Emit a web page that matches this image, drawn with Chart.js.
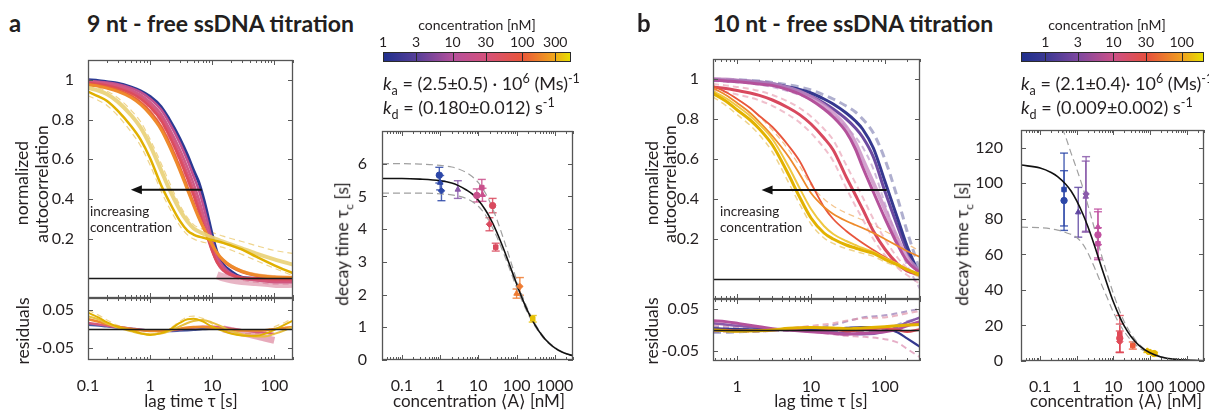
<!DOCTYPE html>
<html lang="en">
<head>
<meta charset="UTF-8">
<title>ssDNA titration</title>
<script src="https://cdn.jsdelivr.net/npm/chart.js@4.4.1/dist/chart.umd.min.js"></script>
<style>
  html, body { margin: 0; padding: 0; width: 1209px; height: 412px; overflow: hidden; background: #fff; }
  body { position: relative; font-family: Lato, "DejaVu Sans", sans-serif; color: #231f20; }
  canvas { position: absolute; }
  .t { position: absolute; white-space: nowrap; line-height: 1; }
  .t sub, .t sup { font-size: 70%; line-height: 0; }
</style>
</head>
<body>
<script>
// ---------- panel a : 9 nt ----------
const lagA = [0.1, 0.15, 0.2, 0.3, 0.5, 0.7, 1, 1.5, 2, 3, 4, 5, 6, 7, 8, 10, 12, 15, 20, 30, 50, 100, 200];
const acfA_blue    = [1.000,0.996,0.990,0.983,0.963,0.945,0.916,0.865,0.805,0.705,0.620,0.545,0.488,0.420,0.350,0.220,0.130,0.070,0.035,0.005,0.000,0.000,0.000];
const acfA_mag     = [0.995,0.990,0.986,0.978,0.958,0.938,0.905,0.850,0.788,0.683,0.593,0.515,0.450,0.380,0.310,0.190,0.110,0.060,0.025,0.002,-0.005,-0.010,-0.010];
const acfA_pink    = [0.992,0.987,0.981,0.971,0.948,0.925,0.888,0.828,0.760,0.650,0.557,0.478,0.405,0.335,0.268,0.160,0.090,0.045,0.018,0.000,-0.010,-0.020,-0.020];
const acfA_pinkred = [0.988,0.982,0.976,0.964,0.940,0.915,0.874,0.810,0.740,0.622,0.525,0.445,0.370,0.300,0.240,0.140,0.078,0.038,0.015,0.000,-0.008,-0.015,-0.015];
const acfA_red     = [0.985,0.979,0.972,0.958,0.932,0.905,0.862,0.795,0.722,0.600,0.500,0.418,0.345,0.280,0.225,0.135,0.080,0.042,0.018,0.004,0.000,-0.005,-0.005];
const acfA_ored    = [0.980,0.973,0.965,0.950,0.920,0.889,0.842,0.768,0.692,0.565,0.462,0.382,0.318,0.268,0.228,0.165,0.122,0.085,0.055,0.030,0.012,0.004,0.002];
const acfA_orange  = [0.975,0.967,0.958,0.942,0.910,0.876,0.826,0.750,0.672,0.545,0.445,0.368,0.308,0.262,0.226,0.168,0.128,0.092,0.062,0.035,0.016,0.006,0.003];
const acfA_peach   = [0.978,0.970,0.962,0.947,0.916,0.884,0.836,0.762,0.686,0.560,0.458,0.380,0.318,0.270,0.232,0.172,0.130,0.095,0.066,0.040,0.022,0.012,0.008];
const acfA_gold    = [0.940,0.915,0.895,0.845,0.765,0.700,0.605,0.470,0.390,0.290,0.240,0.220,0.210,0.205,0.200,0.192,0.186,0.178,0.165,0.145,0.110,0.065,0.025];
const acfA_pale    = [0.960,0.945,0.928,0.890,0.820,0.760,0.670,0.545,0.455,0.345,0.285,0.252,0.236,0.226,0.218,0.205,0.195,0.184,0.170,0.150,0.125,0.095,0.068];
const acfA_paleDash = [0.970,0.958,0.944,0.910,0.845,0.790,0.700,0.580,0.490,0.370,0.305,0.270,0.255,0.247,0.240,0.230,0.222,0.212,0.200,0.185,0.165,0.140,0.125];
const acfA_goldDash = [0.920,0.895,0.872,0.820,0.735,0.668,0.570,0.440,0.360,0.265,0.218,0.198,0.188,0.182,0.178,0.170,0.163,0.155,0.142,0.120,0.090,0.050,0.012];
const acfA_pinkDash = [0.985,0.978,0.970,0.955,0.928,0.898,0.852,0.782,0.705,0.578,0.478,0.398,0.330,0.270,0.218,0.130,0.075,0.035,0.010,-0.010,-0.020,-0.030,-0.030];
const tailA_lag = [12, 15, 20, 30, 50, 80, 120, 200];
const tailA     = [0.015, 0.004, -0.006, -0.015, -0.020, -0.025, -0.030, -0.028];

const resLagA = [0.1, 0.15, 0.2, 0.3, 0.5, 0.7, 1, 1.5, 2, 3, 4, 5, 7, 10, 15, 20, 30, 50, 70, 100, 150, 200];
const resA_gold1  = [0.043,0.030,0.018,0.006,-0.004,-0.011,-0.016,-0.011,-0.003,0.016,0.026,0.027,0.020,0.006,-0.005,-0.012,-0.017,-0.018,-0.013,-0.002,0.012,0.022];
const resA_gold2  = [0.034,0.025,0.015,0.004,-0.006,-0.012,-0.014,-0.012,-0.006,0.007,0.016,0.021,0.024,0.017,0.005,-0.005,-0.014,-0.020,-0.020,-0.013,-0.003,0.006];
const resA_orange = [0.026,0.019,0.013,0.006,0.000,-0.003,-0.005,-0.005,-0.003,0.001,0.004,0.005,0.005,0.003,0.000,-0.002,-0.004,-0.004,-0.003,0.000,0.003,0.005];
const resA_pink   = [0.016,0.012,0.009,0.005,0.001,-0.002,-0.004,-0.005,-0.004,-0.001,0.002,0.004,0.006,0.006,0.004,0.001,-0.003,-0.007,-0.010,-0.013,null,null];
const resA_blue   = [0.011,0.009,0.007,0.004,0.001,-0.002,-0.004,-0.005,-0.005,-0.004,-0.003,-0.002,0.000,0.001,null,null,null,null,null,null,null,null];
const resA_paleDash = [0.050,0.036,0.024,0.010,0.000,-0.008,-0.013,-0.008,0.000,0.020,0.032,0.034,0.028,0.013,0.000,-0.008,-0.012,-0.012,-0.006,0.006,0.018,0.028];
const resA_blobLag = [15, 20, 30, 50, 70, 100];
const resA_blob    = [0.000, -0.004, -0.010, -0.018, -0.024, -0.030];

const concA_blue = [0.95, 1.0, 1.08],  tauA_blue = [5.65, 5.42, 5.17], errA_blue = [0.24, 0.22, 0.30];
const concA_purple = [2.9],            tauA_purple = [5.21],           errA_purple = [0.27];
const concA_pink = [9.1, 12.3, 12.8],  tauA_pink = [5.03, 5.27, 5.05], errA_pink = [0.20, 0.25, 0.20];
const concA_red = [19.5, 23.6, 28.5],  tauA_red = [4.15, 4.72, 3.45],  errA_red = [0.20, 0.22, 0.12];
const concA_orange = [100, 122],       tauA_orange = [2.03, 2.25],     errA_orange = [0.14, 0.27];
const concA_yellow = [265],            tauA_yellow = [1.26],           errA_yellow = [0.10];
const fitA_conc = [0.03, 0.1, 0.3, 1, 2, 3, 5, 7, 10, 15, 20, 30, 50, 70, 100, 150, 200, 300, 500, 700, 1000, 1500, 2000, 3000];
const fitA      = [5.55, 5.55, 5.53, 5.48, 5.41, 5.33, 5.19, 5.07, 4.88, 4.60, 4.35, 3.92, 3.28, 2.82, 2.33, 1.80, 1.47, 1.08, 0.70, 0.52, 0.37, 0.25, 0.19, 0.13];
const fitA_up   = [6.00, 6.00, 5.99, 5.95, 5.90, 5.84, 5.72, 5.60, 5.42, 5.12, 4.83, 4.32, 3.56, 3.02, 2.45, 1.88, 1.53, 1.12, 0.73, 0.54, 0.39, 0.26, 0.20, 0.135];
const fitA_lo   = [5.10, 5.10, 5.10, 5.08, 5.05, 5.01, 4.93, 4.84, 4.70, 4.45, 4.20, 3.78, 3.15, 2.70, 2.22, 1.72, 1.41, 1.04, 0.68, 0.50, 0.36, 0.245, 0.185, 0.125];
const cbarA_ticks = [1, 3, 10, 30, 100, 300];

// ---------- panel b : 10 nt ----------
const lagB = [0.47, 0.7, 1, 1.5, 2, 3, 5, 7, 10, 15, 20, 30, 40, 50, 70, 100, 150, 200, 300];
const acfB_blue   = [0.997,0.995,0.993,0.989,0.985,0.976,0.960,0.948,0.930,0.900,0.875,0.830,0.790,0.750,0.655,0.490,0.300,0.165,0.015];
const acfB_purple = [0.995,0.993,0.990,0.986,0.981,0.970,0.952,0.937,0.915,0.880,0.850,0.800,0.755,0.710,0.610,0.440,0.260,0.140,0.020];
const acfB_mag    = [0.995,0.990,0.986,0.980,0.975,0.968,0.945,0.925,0.895,0.850,0.810,0.735,0.650,0.560,0.435,0.305,0.170,0.090,0.030];
const acfB_magLight = [1.000,0.997,0.993,0.988,0.983,0.975,0.955,0.937,0.910,0.868,0.830,0.760,0.680,0.600,0.480,0.350,0.200,0.110,0.035];
const acfB_red    = [0.960,0.952,0.942,0.930,0.918,0.895,0.855,0.822,0.775,0.705,0.645,0.510,0.420,0.350,0.240,0.150,0.075,0.040,0.020];
const acfB_ored   = [0.965,0.935,0.900,0.855,0.815,0.760,0.665,0.590,0.480,0.360,0.300,0.240,0.205,0.180,0.145,0.110,0.075,0.050,0.020];
const acfB_orange = [0.955,0.920,0.880,0.830,0.785,0.715,0.610,0.525,0.430,0.360,0.325,0.290,0.270,0.255,0.230,0.200,0.165,0.140,0.110];
const acfB_gold   = [0.928,0.890,0.845,0.795,0.750,0.670,0.520,0.410,0.305,0.230,0.200,0.170,0.155,0.143,0.128,0.098,0.070,0.047,0.020];
const acfB_gold2  = [0.940,0.905,0.865,0.815,0.772,0.700,0.560,0.455,0.350,0.265,0.225,0.190,0.170,0.155,0.135,0.105,0.075,0.050,0.025];
const acfB_blueDash   = [0.999,0.998,0.996,0.993,0.990,0.983,0.970,0.960,0.945,0.920,0.900,0.865,0.835,0.800,0.730,0.600,0.400,0.240,0.040];
const acfB_purpleDash = [0.990,0.987,0.983,0.978,0.972,0.960,0.938,0.920,0.895,0.855,0.820,0.760,0.710,0.660,0.550,0.380,0.190,0.070,-0.050];
const acfB_pinkDash1  = [0.975,0.968,0.960,0.950,0.940,0.920,0.885,0.855,0.812,0.750,0.695,0.570,0.480,0.410,0.300,0.200,0.105,0.055,0.005];
const acfB_pinkDash2  = [0.945,0.935,0.922,0.908,0.893,0.866,0.820,0.783,0.730,0.655,0.590,0.455,0.365,0.300,0.200,0.120,0.055,0.020,-0.025];
const acfB_goldDash   = [0.910,0.868,0.822,0.768,0.720,0.635,0.480,0.375,0.275,0.205,0.178,0.152,0.138,0.128,0.113,0.086,0.060,0.038,0.008];
const acfB_orangeDash = [0.965,0.935,0.900,0.855,0.812,0.745,0.645,0.565,0.470,0.400,0.365,0.330,0.310,0.295,0.270,0.240,0.205,0.175,0.140];

const resLagB = [0.47, 0.7, 1, 2, 3, 5, 10, 20, 30, 50, 100, 150, 200, 300];
const resB_mag    = [0.022,0.020,0.016,0.008,0.003,0.000,-0.004,-0.008,-0.010,-0.008,-0.004,0.002,0.010,0.020];
const resB_purple = [0.016,0.013,0.010,0.005,0.002,0.000,-0.003,-0.006,-0.008,-0.010,-0.004,0.008,0.018,0.030];
const resB_blue   = [0.004,0.003,0.002,0.001,0.000,0.000,0.001,0.003,0.005,0.007,0.004,-0.006,-0.020,-0.040];
const resB_red    = [0.000,0.000,-0.002,-0.002,0.000,0.003,0.006,0.002,-0.003,0.000,0.004,0.000,-0.004,0.002];
const resB_gold   = [0.000,-0.002,-0.003,-0.002,0.000,0.004,0.006,0.005,0.003,0.005,0.008,0.010,0.012,0.013];
const resB_dash1  = [0.008,0.006,0.004,0.000,-0.002,-0.002,0.004,0.012,0.020,0.030,0.035,0.040,0.045,0.050];
const resB_dash2  = [-0.004,-0.004,-0.005,-0.004,-0.002,0.000,-0.004,-0.010,-0.014,-0.016,-0.022,-0.030,-0.045,-0.065];
const resB_dash3  = [0.012,0.010,0.008,0.004,0.002,0.004,0.010,0.016,0.022,0.028,0.030,0.035,0.040,0.045];
const resB_slate  = [-0.006,-0.006,-0.005,-0.003,-0.001,0.001,0.000,-0.004,-0.006,-0.004,0.002,0.012,0.020,0.028];

const concB_blue = [0.45, 0.45],           tauB_blue = [96.5, 90.3],         errB_blue = [20.5, 16.8];
const concB_violet = [1.1],                tauB_violet = [83.7],             errB_violet = [14];
const concB_purple = [1.76, 1.8],          tauB_purple = [92.5, 94],         errB_purple = [20, 21];
const concB_mag = [3.8, 3.8, 3.8],         tauB_mag = [75.5, 71, 66],        errB_mag = [10, 13, 9];
const concB_red = [15, 15, 15],            tauB_red = [15.2, 12.8, 10.9],    errB_red = [10.4, 8, 6];
const concB_orange = [34],                 tauB_orange = [8.7],              errB_orange = [2];
const concB_yellow = [85, 105, 130],       tauB_yellow = [5.6, 4.7, 4.2],    errB_yellow = [0.8, 0.8, 0.7];
const fitB_conc = [0.03, 0.1, 0.2, 0.3, 0.5, 0.7, 1, 1.5, 2, 3, 5, 7, 10, 15, 20, 30, 50, 100, 200, 500, 1000, 3000];
const fitB      = [110.3, 108.6, 106.1, 103.8, 99.5, 95.7, 90.1, 82.3, 75.8, 65.4, 51.3, 42.4, 33.3, 24.7, 19.6, 13.9, 8.8, 4.6, 2.3, 0.94, 0.47, 0.16];
const fitB_upConc = [0.4, 0.5, 0.7, 1, 1.5, 2, 3, 5, 7, 10, 15, 20, 30, 50, 100, 200, 500, 1000, 3000];
const fitB_up     = [131, 126, 117, 108, 97, 88, 75, 58, 48, 38, 28, 22, 15.5, 9.5, 4.8, 2.4, 0.96, 0.48, 0.16];
const fitB_loConc = [0.03, 0.1, 0.3, 0.5, 1, 1.5, 2, 3, 5, 7, 10, 15, 20, 30, 50, 100, 200, 500, 1000, 3000];
const fitB_lo     = [75.3, 75, 73.7, 72.3, 69.5, 65.5, 61, 53, 42, 35, 27.5, 20.5, 16.5, 11.8, 7.6, 4.2, 2.2, 0.92, 0.46, 0.16];
const cbarB_ticks = [1, 3, 10, 30, 100];

// ---------- helpers ----------
Chart.defaults.font.family = 'Lato, "DejaVu Sans", sans-serif';
Chart.defaults.font.size = 16;
Chart.defaults.color = '#231f20';

function pts(xs, ys) { return xs.map((x, i) => ({ x: x, y: ys[i] })); }
function curve(xs, ys, color, width, dash) {
  return { data: pts(xs, ys), borderColor: color, borderWidth: width, borderDash: dash || [],
           showLine: true, pointRadius: 0, cubicInterpolationMode: 'monotone', clip: 0 };
}
function marks(xs, ys, errs, color, styles) {
  return { data: pts(xs, ys), errs: errs, borderColor: color, backgroundColor: color,
           pointRadius: 3.2, pointStyle: styles, borderWidth: 1, showLine: false, clip: 6 };
}
function logTicks(min, max) {
  const t = [];
  for (let e = -2; e <= 4; e++) {
    for (let m = 1; m < 10; m++) {
      const v = +(m * Math.pow(10, e)).toPrecision(3);
      if (v >= min && v <= max) t.push({ value: v, major: m === 1 });
    }
  }
  return t;
}
function xLog(min, max, showLabels) {
  return { type: 'logarithmic', min: min, max: max,
    grid: { display: false }, border: { display: false },
    afterBuildTicks: s => { s.ticks = logTicks(min, max); },
    ticks: { display: showLabels, autoSkip: false, maxRotation: 0, padding: 8,
      callback: (v, i, t) => t[i].major ? String(v) : '' } };
}
function yLin(min, max, ticks, pad) {
  return { type: 'linear', min: min, max: max,
    grid: { display: false }, border: { display: false },
    afterBuildTicks: s => { s.ticks = ticks.map(v => ({ value: v })); },
    ticks: { autoSkip: false, padding: pad, callback: v => String(v) } };
}

function seg(ctx, x1, y1, x2, y2) { ctx.beginPath(); ctx.moveTo(x1, y1); ctx.lineTo(x2, y2); ctx.stroke(); }

// box, inward ticks, zero line and arrow
const framePlugin = {
  id: 'frame',
  afterDatasetsDraw(chart, args, o) {
    if (!o || !o.on) return;
    const { ctx, chartArea: a, scales: { x, y } } = chart;
    ctx.save();
    if (o.zero) {
      const yz = Math.round(y.getPixelForValue(0)) + 0.5;
      ctx.strokeStyle = '#1a1a1a'; ctx.lineWidth = 1.4;
      seg(ctx, a.left, yz, a.right, yz);
    }
    if (o.arrow) {
      const x1 = x.getPixelForValue(o.arrow[0]), x2 = x.getPixelForValue(o.arrow[1]);
      const ya = y.getPixelForValue(o.arrow[2]);
      ctx.strokeStyle = '#111'; ctx.fillStyle = '#111'; ctx.lineWidth = 2;
      seg(ctx, x1, ya, x2 + 8, ya);
      ctx.beginPath(); ctx.moveTo(x2, ya); ctx.lineTo(x2 + 11, ya - 4.5); ctx.lineTo(x2 + 11, ya + 4.5);
      ctx.closePath(); ctx.fill();
    }
    ctx.strokeStyle = '#5a5a5a'; ctx.lineWidth = 1;
    x.ticks.forEach(t => {
      const px = Math.round(x.getPixelForValue(t.value)) + 0.5;
      const L = t.major ? 5 : 3;
      seg(ctx, px, a.bottom, px, a.bottom - L);
      seg(ctx, px, a.top, px, a.top + L);
    });
    y.ticks.forEach(t => {
      const py = Math.round(y.getPixelForValue(t.value)) + 0.5;
      seg(ctx, a.left, py, a.left + 5, py);
      seg(ctx, a.right, py, a.right - 5, py);
    });
    ctx.lineWidth = 1.3; ctx.strokeStyle = '#555';
    ctx.strokeRect(a.left + 0.5, a.top + 0.5, a.width - 1, a.height - 1);
    ctx.restore();
  }
};

// vertical error bars with caps
const errPlugin = {
  id: 'errbars',
  beforeDatasetsDraw(chart) {
    const { ctx, scales: { x, y } } = chart;
    chart.data.datasets.forEach(ds => {
      if (!ds.errs) return;
      ctx.save();
      ctx.strokeStyle = ds.borderColor; ctx.globalAlpha = 0.85; ctx.lineWidth = 1.4;
      ds.data.forEach((p, i) => {
        const px = x.getPixelForValue(p.x);
        const y1 = y.getPixelForValue(p.y + ds.errs[i]), y2 = y.getPixelForValue(p.y - ds.errs[i]);
        seg(ctx, px, y1, px, y2);
        seg(ctx, px - 4, y1, px + 4, y1);
        seg(ctx, px - 4, y2, px + 4, y2);
      });
      ctx.restore();
    });
  }
};

// gradient colour bar with segment dividers
const cbarPlugin = {
  id: 'cbar',
  beforeDatasetsDraw(chart, args, o) {
    if (!o || !o.stops) return;
    const { ctx, chartArea: a, scales: { x } } = chart;
    ctx.save();
    const g = ctx.createLinearGradient(a.left, 0, a.right, 0);
    o.stops.forEach(s => g.addColorStop(s[0], s[1]));
    ctx.fillStyle = g; ctx.fillRect(a.left, a.top, a.width, a.height);
    ctx.strokeStyle = '#2a2a2a'; ctx.lineWidth = 1;
    x.ticks.forEach(t => {
      const px = Math.round(x.getPixelForValue(t.value)) + 0.5;
      if (px > a.left + 2) seg(ctx, px, a.top, px, a.bottom);
    });
    ctx.strokeRect(a.left + 0.5, a.top + 0.5, a.width - 1, a.height - 1);
    ctx.restore();
  }
};

function addCanvas(box, m) {
  const cv = document.createElement('canvas');
  const W = box.w + m.l + m.r, H = box.h + m.t + m.b;
  cv.width = W; cv.height = H;
  cv.style.left = (box.x - m.l) + 'px'; cv.style.top = (box.y - m.t) + 'px';
  cv.style.width = W + 'px'; cv.style.height = H + 'px';
  document.body.appendChild(cv);
  return cv;
}

function plot(box, m, datasets, xs, ys, frame) {
  const cv = addCanvas(box, m);
  xs.afterFit = s => { s.height = m.b; };
  ys.afterFit = s => { s.width = m.l; };
  return new Chart(cv, {
    type: 'scatter',
    data: { datasets: datasets.slice().reverse() },   // first listed = drawn first
    options: {
      responsive: false, animation: false, devicePixelRatio: 1,
      layout: { padding: { top: m.t, right: m.r, left: 0, bottom: 0 } },
      plugins: { legend: { display: false }, tooltip: { enabled: false }, frame: frame },
      scales: { x: xs, y: ys }
    },
    plugins: [framePlugin, errPlugin]
  });
}

function colorbar(box, min, max, ticks, stops) {
  const m = { l: 15, r: 15, t: 30, b: 5 };
  const cv = addCanvas(box, m);
  return new Chart(cv, {
    type: 'scatter',
    data: { datasets: [] },
    options: {
      responsive: false, animation: false, devicePixelRatio: 1,
      layout: { padding: { top: 0, right: m.r, left: m.l, bottom: m.b } },
      plugins: { legend: { display: false }, tooltip: { enabled: false }, cbar: { stops: stops } },
      scales: {
        x: { type: 'logarithmic', position: 'top', min: min, max: max,
             grid: { display: false }, border: { display: false },
             afterBuildTicks: s => { s.ticks = ticks.map(v => ({ value: v })); },
             afterFit: s => { s.height = m.t; },
             ticks: { autoSkip: false, maxRotation: 0, padding: -7, font: { size: 14 }, callback: v => String(v) } },
        y: { display: false, min: 0, max: 1 }
      }
    },
    plugins: [cbarPlugin]
  });
}

function txt(html, x, y, o) {
  o = o || {};
  const d = document.createElement('div');
  d.className = 't'; d.innerHTML = html;
  d.style.left = x + 'px'; d.style.top = y + 'px';
  d.style.fontSize = (o.size || 16) + 'px';
  if (o.bold) d.style.fontWeight = 'bold';
  const ax = o.align === 'center' ? '-50%' : (o.align === 'right' ? '-100%' : '0');
  d.style.transform = 'translate(' + ax + ',-50%)' + (o.rot ? ' rotate(-90deg)' : '');
  document.body.appendChild(d);
}

const M_TOP = { l: 60, r: 20, t: 20, b: 20 };
const M_BOT = { l: 60, r: 20, t: 20, b: 50 };

// ---------- panel a charts ----------
plot({ x: 88, y: 60, w: 205, h: 238 }, M_TOP, [
  curve(lagA, acfA_paleDash, 'rgba(236,205,120,0.85)', 1.2, [6, 4]),
  curve(lagA, acfA_goldDash, 'rgba(236,205,120,0.85)', 1.2, [6, 4]),
  curve(lagA, acfA_pinkDash, 'rgba(236,160,180,0.8)', 1.2, [6, 4]),
  curve(tailA_lag, tailA, 'rgba(214,120,150,0.55)', 8),
  curve(lagA, acfA_blue, '#2b3a93', 3),
  curve(lagA, acfA_mag, '#c0508f', 2.5),
  curve(lagA, acfA_pink, '#cf5a86', 2.5),
  curve(lagA, acfA_pinkred, '#d7567a', 2.5),
  curve(lagA, acfA_red, '#dc4c5c', 2.5),
  curve(lagA, acfA_peach, '#f5c49a', 1.5),
  curve(lagA, acfA_ored, '#e8603e', 2),
  curve(lagA, acfA_orange, '#ee8a2c', 3),
  curve(lagA, acfA_pale, 'rgba(233,208,118,0.9)', 4),
  curve(lagA, acfA_gold, '#e0b000', 2.5)
], xLog(0.1, 200, false), yLin(-0.1, 1.1, [0.2, 0.4, 0.6, 0.8, 1], 6),
{ on: true, zero: true, arrow: [6.8, 0.49, 0.446] });

plot({ x: 88, y: 298, w: 205, h: 62 }, M_BOT, [
  curve(resLagA, resA_paleDash, 'rgba(236,205,120,0.85)', 1.2, [6, 4]),
  curve(resA_blobLag, resA_blob, 'rgba(212,100,130,0.55)', 7),
  curve(resLagA, resA_blue, '#4a5aa8', 2.5),
  curve(resLagA, resA_pink, '#d65a7e', 2.5),
  curve(resLagA, resA_orange, '#ee8a2c', 2.5),
  curve(resLagA, resA_gold2, '#e8c040', 2),
  curve(resLagA, resA_gold1, '#e0b000', 2)
], xLog(0.1, 200, true), yLin(-0.082, 0.082, [-0.05, 0.05], 6),
{ on: true, zero: true });

plot({ x: 382, y: 131, w: 191, h: 229 }, M_BOT, [
  curve(fitA_conc, fitA_up, '#a0a0a0', 1.2, [7, 4]),
  curve(fitA_conc, fitA_lo, '#a0a0a0', 1.2, [7, 4]),
  curve(fitA_conc, fitA, '#111', 1.6),
  marks(concA_blue, tauA_blue, errA_blue, '#2c47a8', ['circle', 'triangle', 'rectRot']),
  marks(concA_purple, tauA_purple, errA_purple, '#8a5aaa', ['triangle']),
  marks(concA_pink, tauA_pink, errA_pink, '#c9508c', ['circle', 'rect', 'triangle']),
  marks(concA_red, tauA_red, errA_red, '#d94a5e', ['rectRot', 'circle', 'rect']),
  marks(concA_orange, tauA_orange, errA_orange, '#ee7a30', ['triangle', 'rectRot']),
  marks(concA_yellow, tauA_yellow, errA_yellow, '#e6c000', ['rect'])
], xLog(0.03, 3000, true), yLin(0, 7, [0, 1, 2, 3, 4, 5, 6], 7),
{ on: true });

colorbar({ x: 383, y: 52, w: 188, h: 10 }, 1, 505, cbarA_ticks,
  [[0, '#1f2f8c'], [0.179, '#573f99'], [0.374, '#b6509c'], [0.546, '#d4517c'],
   [0.737, '#e9553a'], [0.908, '#f0a51c'], [1, '#e6e200']]);

// ---------- panel b charts ----------
plot({ x: 713, y: 59, w: 207, h: 240 }, M_TOP, [
  curve(lagB, acfB_orangeDash, 'rgba(240,180,110,0.8)', 1.2, [6, 4]),
  curve(lagB, acfB_goldDash, 'rgba(236,205,120,0.85)', 1.5, [6, 4]),
  curve(lagB, acfB_pinkDash1, 'rgba(230,150,172,0.6)', 2, [6, 4]),
  curve(lagB, acfB_pinkDash2, 'rgba(230,150,172,0.6)', 2, [6, 4]),
  curve(lagB, acfB_purpleDash, 'rgba(170,130,190,0.55)', 2, [6, 4]),
  curve(lagB, acfB_blueDash, 'rgba(95,95,160,0.5)', 3, [8, 5]),
  curve(lagB, acfB_purple, '#6d4aa0', 3),
  curve(lagB, acfB_blue, '#35388f', 3),
  curve(lagB, acfB_magLight, 'rgba(200,140,195,0.8)', 4),
  curve(lagB, acfB_mag, '#b4519b', 3),
  curve(lagB, acfB_red, '#d8485e', 3),
  curve(lagB, acfB_ored, '#e8563c', 1.8),
  curve(lagB, acfB_orange, '#ee8a2a', 1.8),
  curve(lagB, acfB_gold2, '#f0c840', 2),
  curve(lagB, acfB_gold, '#e2b200', 3)
], xLog(0.47, 300, false), yLin(-0.1, 1.1, [0.2, 0.4, 0.6, 0.8, 1], 6),
{ on: true, zero: true, arrow: [106, 2.14, 0.445] });

plot({ x: 713, y: 299, w: 207, h: 62 }, M_BOT, [
  curve(resLagB, resB_dash1, 'rgba(150,120,180,0.7)', 2, [6, 4]),
  curve(resLagB, resB_dash2, 'rgba(220,140,175,0.7)', 2, [6, 4]),
  curve(resLagB, resB_dash3, 'rgba(225,150,170,0.7)', 2, [6, 4]),
  curve(resLagB, resB_slate, 'rgba(100,100,160,0.6)', 2.5, [8, 5]),
  curve(resLagB, resB_purple, '#8a5aaa', 2.5),
  curve(resLagB, resB_blue, '#35388f', 2.2),
  curve(resLagB, resB_mag, '#b4519b', 3),
  curve(resLagB, resB_red, '#e0505a', 2.5),
  curve(resLagB, resB_gold, '#e2b200', 3)
], xLog(0.47, 300, true), yLin(-0.074, 0.074, [-0.05, 0.05], 6),
{ on: true, zero: true });

plot({ x: 1021, y: 130, w: 183, h: 231 }, M_BOT, [
  curve(fitB_upConc, fitB_up, '#a0a0a0', 1.2, [7, 4]),
  curve(fitB_loConc, fitB_lo, '#a0a0a0', 1.2, [7, 4]),
  marks(concB_blue, tauB_blue, errB_blue, '#2c47a8', ['rect', 'circle']),
  marks(concB_violet, tauB_violet, errB_violet, '#5e45a0', ['triangle']),
  marks(concB_purple, tauB_purple, errB_purple, '#8a5aaa', ['triangle', 'rectRot']),
  marks(concB_mag, tauB_mag, errB_mag, '#c050a0', ['triangle', 'circle', 'rect']),
  marks(concB_red, tauB_red, errB_red, '#e04a58', ['rect', 'circle', 'rectRot']),
  marks(concB_orange, tauB_orange, errB_orange, '#ec5a3a', ['rect']),
  marks(concB_yellow, tauB_yellow, errB_yellow, '#e6b800', ['rectRot', 'triangle', 'circle']),
  curve(fitB_conc, fitB, '#111', 1.6)
], xLog(0.03, 3000, true), yLin(0, 130, [0, 20, 40, 60, 80, 100, 120], 10),
{ on: true });

colorbar({ x: 1021, y: 52, w: 183, h: 10 }, 0.44, 213, cbarB_ticks,
  [[0, '#1f2f8c'], [0.131, '#3a3893'], [0.313, '#7e48a0'], [0.505, '#cc5088'],
   [0.687, '#e6503e'], [0.881, '#f0a01e'], [1, '#e6e200']]);

// ---------- texts ----------
txt('a', 9, 23, { size: 24, bold: true });
txt('9 nt - free ssDNA titration', 87, 23, { size: 23, bold: true });
txt('normalized', 22, 183, { size: 17.5, rot: true, align: 'center' });
txt('autocorrelation', 42, 184, { size: 17.5, rot: true, align: 'center' });
txt('residuals', 23, 331, { size: 17.5, rot: true, align: 'center' });
txt('lag time τ [s]', 191, 400, { size: 17, align: 'center' });
txt('increasing', 90, 212, { size: 13.5 });
txt('concentration', 90, 228, { size: 13.5 });
txt('concentration [nM]', 477, 25, { size: 14, align: 'center' });
txt('<i>k</i><sub>a</sub> = (2.5±0.5) · 10<sup>6</sup> (Ms)<sup>-1</sup>', 383, 83, { size: 18 });
txt('<i>k</i><sub>d</sub> = (0.180±0.012) s<sup>-1</sup>', 383, 107, { size: 18 });
txt('decay time τ<sub>c</sub> [s]', 342, 244, { size: 17.5, rot: true, align: 'center' });
txt('concentration ⟨A⟩ [nM]', 479, 400, { size: 17, align: 'center' });

txt('b', 637, 23, { size: 24, bold: true });
txt('10 nt - free ssDNA titration', 713, 23, { size: 23, bold: true });
txt('normalized', 652, 183, { size: 17.5, rot: true, align: 'center' });
txt('autocorrelation', 670, 184, { size: 17.5, rot: true, align: 'center' });
txt('residuals', 652, 331, { size: 17.5, rot: true, align: 'center' });
txt('lag time τ [s]', 821, 400, { size: 17, align: 'center' });
txt('increasing', 720, 212, { size: 13.5 });
txt('concentration', 720, 228, { size: 13.5 });
txt('concentration [nM]', 1107, 25, { size: 14, align: 'center' });
txt('<i>k</i><sub>a</sub> = (2.1±0.4)· 10<sup>6</sup> (Ms)<sup>-1</sup>', 1021, 83, { size: 18 });
txt('<i>k</i><sub>d</sub> = (0.009±0.002) s<sup>-1</sup>', 1021, 107, { size: 18 });
txt('decay time τ<sub>c</sub> [s]', 962, 244, { size: 17.5, rot: true, align: 'center' });
txt('concentration ⟨A⟩ [nM]', 1116, 400, { size: 17, align: 'center' });
</script>
</body>
</html>
